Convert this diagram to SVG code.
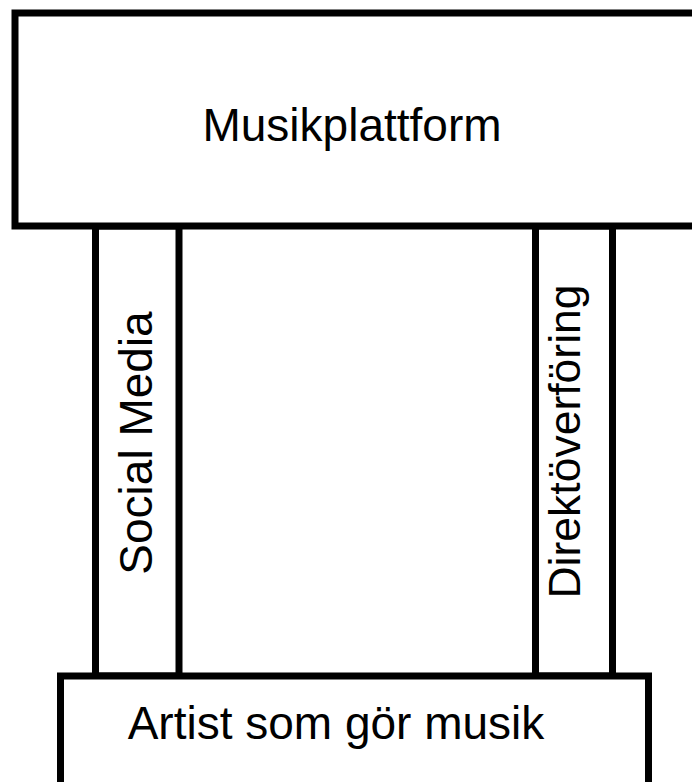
<svg xmlns="http://www.w3.org/2000/svg" width="692" height="782" viewBox="0 0 692 782">
  <style>
    .box { fill: #ffffff; stroke: #000000; stroke-width: 7; }
    .lbl { font-family: "Liberation Sans", Arial, sans-serif; fill: #000000; text-anchor: middle; }
  </style>
  <rect x="0" y="0" width="692" height="782" fill="#ffffff"/>
  <g id="connectors">
    <g id="social-media">
      <rect class="box" x="95.5" y="226" width="83.5" height="450"/>
      <text class="lbl" font-size="46" transform="translate(152,443) rotate(-90)">Social Media</text>
    </g>
    <g id="direktoverforing">
      <rect class="box" x="535.5" y="226" width="77" height="450"/>
      <text class="lbl" font-size="44.5" transform="translate(580,441.5) rotate(-90)">Direktöverföring</text>
    </g>
  </g>
  <g id="musikplattform">
    <rect class="box" x="15" y="13" width="700" height="213"/>
    <text class="lbl" font-size="46" x="352" y="141">Musikplattform</text>
  </g>
  <g id="artist">
    <rect class="box" x="60.5" y="676" width="588" height="130"/>
    <text class="lbl" font-size="46" x="336" y="739">Artist som gör musik</text>
  </g>
</svg>
